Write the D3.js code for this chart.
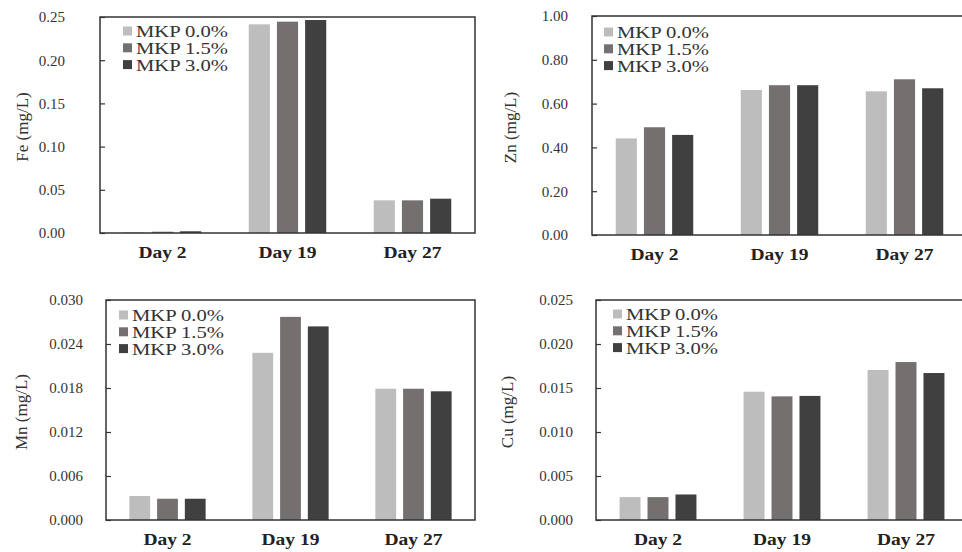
<!DOCTYPE html>
<html>
<head>
<meta charset="utf-8">
<script src="https://cdnjs.cloudflare.com/ajax/libs/d3/7.8.5/d3.min.js"></script>
<style>
  body { margin: 0; background: white; }
  svg { display: block; }
</style>
</head>
<body>
<script>
let days = ["Day 2", "Day 19", "Day 27"]
let series = ["MKP 0.0%", "MKP 1.5%", "MKP 3.0%"]
let colors = ["#bdbdbd", "#747070", "#404040"]

// rows = series (MKP 0.0, 1.5, 3.0), columns = days
let fe = [[0.0010, 0.2415, 0.0378],
          [0.0015, 0.2446, 0.0378],
          [0.0020, 0.2465, 0.0397]]
let zn = [[0.441, 0.662, 0.656],
          [0.492, 0.684, 0.711],
          [0.457, 0.684, 0.670]]
let mn = [[0.00327, 0.0228, 0.0179],
          [0.0029, 0.0277, 0.0179],
          [0.0029, 0.0264, 0.01755]]
let cu = [[0.0026, 0.01458, 0.01705],
          [0.0026, 0.01405, 0.01795],
          [0.0029, 0.0141, 0.0167]]

let feTicks = [0, 0.05, 0.10, 0.15, 0.20, 0.25]
let znTicks = [0, 0.2, 0.4, 0.6, 0.8, 1.0]
let mnTicks = [0, 0.006, 0.012, 0.018, 0.024, 0.030]
let cuTicks = [0, 0.005, 0.010, 0.015, 0.020, 0.025]

let font = "'Liberation Serif', 'Times New Roman', serif"

let panels = [
  {label: "Fe (mg/L)", data: fe, ticks: feTicks, fmt: ".2f", x0: 100, x1: 475, y0: 17, y1: 233, labX: 22, tickGap: 35, legX: 123, legY: 31},
  {label: "Zn (mg/L)", data: zn, ticks: znTicks, fmt: ".2f", x0: 592, x1: 967, y0: 16, y1: 235, labX: 510, tickGap: 24, legX: 604, legY: 32},
  {label: "Mn (mg/L)", data: mn, ticks: mnTicks, fmt: ".3f", x0: 106, x1: 475, y0: 300, y1: 520, labX: 21, tickGap: 23, legX: 119, legY: 315},
  {label: "Cu (mg/L)", data: cu, ticks: cuTicks, fmt: ".3f", x0: 596, x1: 968, y0: 300, y1: 520, labX: 507, tickGap: 23, legX: 613, legY: 314}
]

let svg = d3.select("body")
  .append("svg")
  .attr("width", 962)
  .attr("height", 552)
  .style("background-color", "white")

panels.forEach(p => {
  let g = svg.append("g")

  let xScale = d3.scaleBand()
    .domain(days)
    .range([p.x0, p.x1])
    .paddingInner(0.38)
    .paddingOuter(0.19)
  let sScale = d3.scaleBand()
    .domain(series)
    .range([0, xScale.bandwidth()])
    .paddingInner(0.25)
  let yScale = d3.scaleLinear()
    .domain([0, d3.max(p.ticks)])
    .range([p.y1, p.y0])

  // bars
  series.forEach((s, si) => {
    g.append("g")
      .selectAll("rect")
      .data(p.data[si])
      .enter()
      .append("rect")
      .attr("x", (d, i) => xScale(days[i]) + sScale(s))
      .attr("y", d => yScale(d))
      .attr("width", sScale.bandwidth())
      .attr("height", d => yScale(0) - yScale(d))
      .attr("fill", colors[si])
  })

  // frame
  g.append("rect")
    .attr("x", p.x0)
    .attr("y", p.y0)
    .attr("width", p.x1 - p.x0)
    .attr("height", p.y1 - p.y0)
    .attr("fill", "none")
    .attr("stroke", "#333")
    .attr("stroke-width", 1.5)

  // y axis, ticks inside
  let yAxis = d3.axisRight(yScale)
    .tickValues(p.ticks)
    .tickFormat(d3.format(p.fmt))
    .tickSize(5)
    .tickPadding(-(5 + p.tickGap))
  let ya = g.append("g")
    .attr("transform", "translate(" + p.x0 + ",0)")
    .call(yAxis)
  ya.attr("font-family", null)
  ya.select(".domain").remove()
  ya.selectAll("line").attr("stroke", "#333").attr("stroke-width", 1.2)
  ya.selectAll("text")
    .attr("text-anchor", "end")
    .attr("fill", "#333")
    .style("font-family", font)
    .style("font-size", "15px")

  // day labels
  let xAxis = d3.axisBottom(xScale).tickSize(0).tickPadding(14)
  let xa = g.append("g")
    .attr("transform", "translate(0," + p.y1 + ")")
    .call(xAxis)
  xa.select(".domain").remove()
  xa.selectAll(".tick text")
    .attr("fill", "#222")
    .style("font-family", font)
    .style("font-size", "16px")
    .style("font-weight", "bold")
    .attr("transform", "scale(1.22,1)")

  // y label
  g.append("text")
    .attr("transform", "translate(" + p.labX + "," + ((p.y0 + p.y1) / 2 + 2) + ") rotate(-90)")
    .attr("text-anchor", "middle")
    .attr("dy", "0.35em")
    .attr("fill", "#333")
    .style("font-family", font)
    .style("font-size", "17px")
    .text(p.label)

  // legend
  series.forEach((s, si) => {
    let ly = p.legY + si * 16.8
    g.append("rect")
      .attr("x", p.legX)
      .attr("y", ly - 4.5)
      .attr("width", 9)
      .attr("height", 9)
      .attr("fill", colors[si])
    g.append("text")
      .attr("transform", "translate(" + (p.legX + 13) + "," + ly + ") scale(1.25,1)")
      .attr("dy", "0.36em")
      .attr("fill", "#333")
      .style("font-family", font)
      .style("font-size", "16.5px")
      .text(s)
  })
})
</script>
</body>
</html>
